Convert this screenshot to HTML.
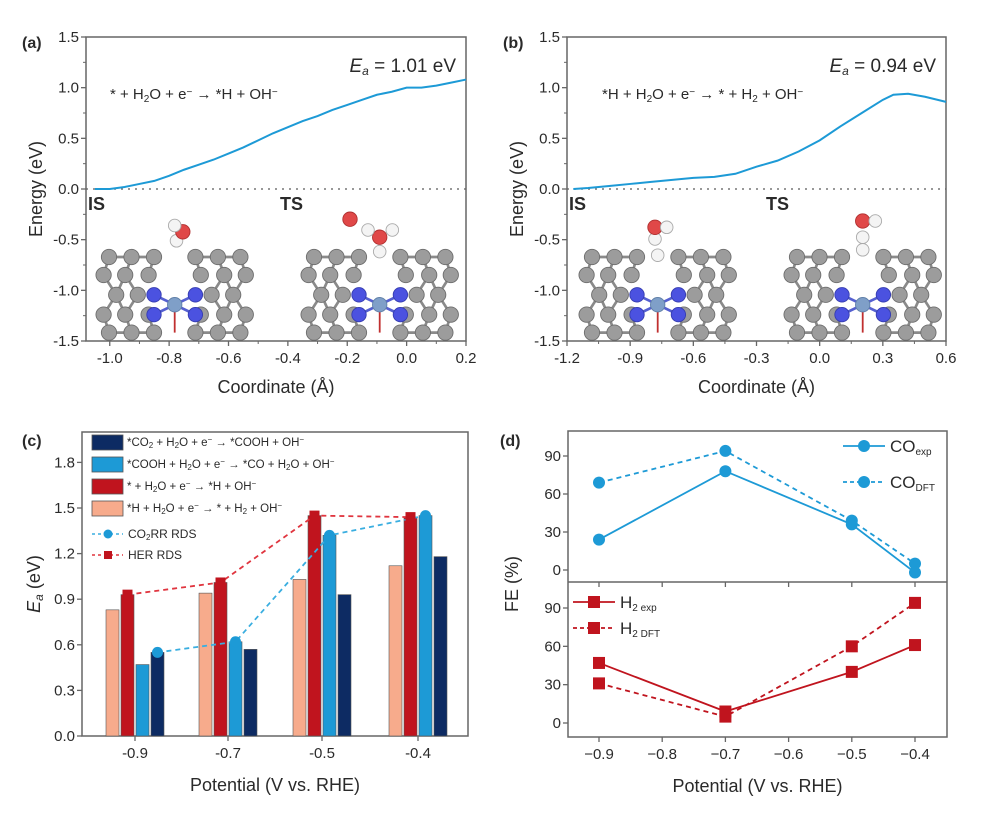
<!DOCTYPE html>
<html><head><meta charset="utf-8"><style>
body{margin:0;background:#fff;}
svg text{font-family:"Liberation Sans",Arial,sans-serif;fill:#2a2a2a;}
</style></head>
<body>
<svg id="fig" xmlns="http://www.w3.org/2000/svg" width="984" height="825" viewBox="0 0 984 825"></svg>
<script>
// ---- data ----
const aX=[-1.05,-1.0,-0.95,-0.9,-0.85,-0.8,-0.75,-0.7,-0.65,-0.6,-0.55,-0.5,-0.45,-0.4,-0.35,-0.3,-0.25,-0.2,-0.15,-0.1,-0.05,0,0.05,0.1,0.15,0.2];
const aY=[0,0,0.02,0.05,0.08,0.13,0.19,0.24,0.29,0.35,0.41,0.48,0.55,0.61,0.67,0.72,0.78,0.83,0.88,0.93,0.96,1.0,1.0,1.02,1.05,1.08];
const bX=[-1.17,-1.1,-1.0,-0.9,-0.8,-0.7,-0.6,-0.5,-0.4,-0.3,-0.2,-0.1,0,0.1,0.2,0.3,0.35,0.42,0.5,0.6];
const bY=[0,0.01,0.03,0.05,0.07,0.09,0.11,0.12,0.15,0.22,0.28,0.37,0.48,0.62,0.75,0.88,0.93,0.94,0.91,0.86];
const aXTicks=[-1.0,-0.8,-0.6,-0.4,-0.2,0.0,0.2];
const bXTicks=[-1.2,-0.9,-0.6,-0.3,0.0,0.3,0.6];
const eTicks=[-1.5,-1.0,-0.5,0.0,0.5,1.0,1.5];
const cCats=["-0.9","-0.7","-0.5","-0.4"];
const cPeach=[0.83,0.94,1.03,1.12];
const cRed=[0.93,1.01,1.45,1.44];
const cLBlue=[0.47,0.62,1.32,1.45];
const cNavy=[0.55,0.57,0.93,1.18];
const cYTicks=[0.0,0.3,0.6,0.9,1.2,1.5,1.8];
const dX=[-0.9,-0.7,-0.5,-0.4];
const coExp=[24,78,36,-2];
const coDft=[69,94,39,5];
const h2Exp=[47,9,40,61];
const h2Dft=[31,5,60,94];
const dXTicks=[-0.9,-0.8,-0.7,-0.6,-0.5,-0.4];
const dYTicks=[0,30,60,90];

const NS="http://www.w3.org/2000/svg";
const svg=document.getElementById('fig');
function el(tag,attrs,parent,txt){const e=document.createElementNS(NS,tag);for(const k in attrs)e.setAttribute(k,attrs[k]);if(txt!==undefined)e.textContent=txt;(parent||svg).appendChild(e);return e;}
const BLUE="#1d9ad6",RED="#c0141e",NAVY="#0d2b63",PEACH="#f7ab8c",AX="#666";
function fmt(v,d){return (v<0?"-":"")+Math.abs(v).toFixed(d);}
function fmtM(v,d){return (v<0?"\u2212":"")+Math.abs(v).toFixed(d);}
function rich(t,segs,small){
  segs.forEach(s=>{
    if(typeof s==="string") el('tspan',{},t,s);
    else el('tspan',{"font-size":small,"baseline-shift":s[1]==="sub"?"-25%":"45%"},t,s[0]);
  });
}

function molecule(g,ox,oy,ads){
  const m=el('g',{transform:`translate(${ox},${oy}) scale(0.9)`},g);
  
  
  const rows=[[0,[10,35,60,106,131,156]],[20,[4,28,54,112,138,162]],[42,[18,42,124,148]],[64,[4,28,54,112,138,162]],[84,[10,35,60,106,131,156]]];
  const bonds=[[10,0,4,20],[35,0,28,20],[60,0,54,20],[106,0,112,20],[131,0,138,20],[156,0,162,20],
    [4,20,18,42],[28,20,18,42],[28,20,42,42],[138,20,124,42],[138,20,148,42],[162,20,148,42],
    [18,42,4,64],[18,42,28,64],[42,42,28,64],[124,42,138,64],[148,42,138,64],[148,42,162,64],
    [4,64,10,84],[28,64,35,84],[54,64,60,84],[112,64,106,84],[138,64,131,84],[162,64,156,84],
    [10,84,35,84],[35,84,60,84],[106,84,131,84],[131,84,156,84],[10,0,35,0],[35,0,60,0],[106,0,131,0],[131,0,156,0]];
  bonds.forEach(b=>el('line',{x1:b[0],y1:b[1],x2:b[2],y2:b[3],stroke:"#8a8a8a","stroke-width":3},m));
  [[60,42],[106,42],[60,64],[106,64]].forEach(p=>el('line',{x1:83,y1:53,x2:p[0],y2:p[1],stroke:"#5560d0","stroke-width":3},m));
  el('line',{x1:83,y1:53,x2:83,y2:84,stroke:"#c03030","stroke-width":2},m);
  rows.forEach(r=>r[1].forEach(x=>el('circle',{cx:x,cy:r[0],r:8.5,fill:"#9c9c9c",stroke:"#6d6d6d","stroke-width":1},m)));
  [[60,42],[106,42],[60,64],[106,64]].forEach(p=>el('circle',{cx:p[0],cy:p[1],r:8,fill:"#4b52e0",stroke:"#353cb0","stroke-width":1},m));
  el('circle',{cx:83,cy:53,r:8,fill:"#7f9fc8",stroke:"#6080a8","stroke-width":1},m);
  ads.forEach(a=>el('circle',{cx:a[0],cy:a[1],r:a[2]==="O"?8:7,fill:a[2]==="O"?"#e04848":"#f4f4f4",stroke:a[2]==="O"?"#b03030":"#aaa","stroke-width":1},m));
}

function energyPanel(name,L,R,xmin,xmax,xs,ys,xt,label,ea,rxnX,rxn,tsX,mols){
  const T=37,B=341;
  const g=el('g',{});
  
  
  const sx=v=>L+(v-xmin)/(xmax-xmin)*(R-L);
  const sy=v=>B-(v+1.5)/3*(B-T);
  mols.forEach(m=>molecule(g,m[0],m[1],m[2]));
  const z=el('line',{x1:L,y1:sy(0),x2:R,y2:sy(0),stroke:"#777","stroke-width":1.5,"stroke-dasharray":"2 5"},g);
  
  
  el('rect',{x:L,y:T,width:R-L,height:B-T,fill:"none",stroke:AX,"stroke-width":1.5},g);
  eTicks.forEach(v=>{
    el('line',{x1:L-5,y1:sy(v),x2:L,y2:sy(v),stroke:AX,"stroke-width":1.3},g);
    const t=el('text',{x:L-7,y:sy(v)+5,"font-size":15,"text-anchor":"end"},g,fmt(v,1));
    
    
  });
  for(let v=-1.25;v<1.5;v+=0.5) el('line',{x1:L-3,y1:sy(v),x2:L,y2:sy(v),stroke:AX,"stroke-width":1},g);
  xt.forEach(v=>{
    el('line',{x1:sx(v),y1:B,x2:sx(v),y2:B+5,stroke:AX,"stroke-width":1.3},g);
    const t=el('text',{x:sx(v),y:B+22,"font-size":15,"text-anchor":"middle"},g,fmt(v,1));
    
    
  });
  const st=xt[1]-xt[0];
  for(let v=xt[0]+st/2;v<xmax;v+=st) el('line',{x1:sx(v),y1:B,x2:sx(v),y2:B+3,stroke:AX,"stroke-width":1},g);
  const p=el('polyline',{points:xs.map((x,i)=>sx(x)+","+sy(ys[i])).join(" "),fill:"none",stroke:BLUE,"stroke-width":2},g);
  
  
  const yl=el('text',{x:0,y:0,"font-size":18,"text-anchor":"middle",transform:`translate(${L-44},${(T+B)/2}) rotate(-90)`},g,"Energy (eV)");
  
  
  const xl=el('text',{x:(L+R)/2,y:B+52,"font-size":18,"text-anchor":"middle"},g,"Coordinate (\u00C5)");
  
  
  const pl=el('text',{x:L-64,y:T+11,"font-size":16,"font-weight":"bold"},g,label);
  
  
  const e=el('text',{x:R-10,y:T+35,"font-size":19,"text-anchor":"end"},g);
  
  
  el('tspan',{"font-style":"italic"},e,"E");
  el('tspan',{"font-style":"italic","font-size":12,"baseline-shift":"-25%"},e,"a");
  el('tspan',{},e," = "+ea+" eV");
  const r=el('text',{x:rxnX,y:T+62,"font-size":15},g);
  
  
  rich(r,rxn,10);
  [["IS",L+2],["TS",tsX]].forEach(s=>{const t=el('text',{x:s[1],y:sy(0)+21,"font-size":18,"font-weight":"bold",fill:"#111"},g,s[0]);
    });
}
energyPanel('panel-a-energy-profile',86,466,-1.08,0.2,aX,aY,aXTicks,"(a)","1.01",110,
  ["* + H",["2","sub"],"O + e",["\u2212","sup"]," \u2192 *H + OH",["\u2212","sup"]],280,
  [[100,257,[[85,-18,"H"],[92,-28,"O"],[83,-35,"H"]]],[305,257,[[83,-22,"O"],[70,-30,"H"],[97,-30,"H"],[50,-42,"O"],[83,-6,"H"]]]]);
energyPanel('panel-b-energy-profile',567,946,-1.2,0.6,bX,bY,bXTicks,"(b)","0.94",602,
  ["*H + H",["2","sub"],"O + e",["\u2212","sup"]," \u2192 * + H",["2","sub"]," + OH",["\u2212","sup"]],766,
  [[583,257,[[83,-2,"H"],[80,-20,"H"],[80,-33,"O"],[93,-33,"H"]]],[788,257,[[83,-8,"H"],[83,-22,"H"],[83,-40,"O"],[97,-40,"H"]]]]);

// ---------- Panel c ----------
(function(){
  const L=82,R=468,T=432,B=736;
  const g=el('g',{});
  
  
  const sy=v=>B-v/2.0*(B-T);
  const centers=[135,228,322,418];
  const bw=13,off=[-1.5,-0.5,0.5,1.5].map(k=>k*15);
  el('rect',{x:L,y:T,width:R-L,height:B-T,fill:"none",stroke:AX,"stroke-width":1.5},g);
  cYTicks.forEach(v=>{
    el('line',{x1:L-5,y1:sy(v),x2:L,y2:sy(v),stroke:AX,"stroke-width":1.3},g);
    const t=el('text',{x:L-7,y:sy(v)+5,"font-size":15,"text-anchor":"end"},g,v.toFixed(1));
    
    
  });
  cCats.forEach((c,i)=>{
    el('line',{x1:centers[i],y1:B,x2:centers[i],y2:B+5,stroke:AX,"stroke-width":1.3},g);
    const t=el('text',{x:centers[i],y:B+22,"font-size":15,"text-anchor":"middle"},g,c);
    
    
  });
  const series=[[cPeach,PEACH,'bar-h-desorption'],[cRed,RED,'bar-h-adsorption'],[cLBlue,BLUE,'bar-cooh-to-co'],[cNavy,NAVY,'bar-co2-to-cooh']];
  series.forEach((s,k)=>s[0].forEach((v,i)=>{
    const b=el('rect',{x:centers[i]+off[k]-bw/2,y:sy(v),width:bw,height:B-sy(v),fill:s[1],stroke:"#555","stroke-width":0.6},g);
    
    
  }));
  const co2=[[3,0],[2,1],[2,2],[2,3]].map(p=>[centers[p[1]]+off[p[0]],sy(series[p[0]][0][p[1]])]);
  const her=cRed.map((v,i)=>[centers[i]+off[1],sy(v)]);
  const l1=el('polyline',{points:her.map(p=>p.join(",")).join(" "),fill:"none",stroke:"#e0353f","stroke-width":1.8,"stroke-dasharray":"5 4"},g);
  
  const l2=el('polyline',{points:co2.map(p=>p.join(",")).join(" "),fill:"none",stroke:"#3aaee0","stroke-width":1.8,"stroke-dasharray":"5 4"},g);
  
  her.forEach(p=>{const m=el('rect',{x:p[0]-5,y:p[1]-5,width:10,height:10,fill:RED},g);});
  co2.forEach(p=>{const m=el('circle',{cx:p[0],cy:p[1],r:5.5,fill:BLUE},g);});
  const leg=[[NAVY,["*CO",["2","sub"]," + H",["2","sub"],"O + e",["\u2212","sup"],"  \u2192 *COOH + OH",["\u2212","sup"]]],
             [BLUE,["*COOH + H",["2","sub"],"O + e",["\u2212","sup"]," \u2192 *CO + H",["2","sub"],"O + OH",["\u2212","sup"]]],
             [RED,["* + H",["2","sub"],"O + e",["\u2212","sup"]," \u2192 *H + OH",["\u2212","sup"]]],
             [PEACH,["*H + H",["2","sub"],"O + e",["\u2212","sup"]," \u2192 * + H",["2","sub"]," + OH",["\u2212","sup"]]]];
  leg.forEach((l,i)=>{
    const y=442+i*22;
    const gi=el('g',{},g);
    
    
    el('rect',{x:92,y:y-7,width:31,height:15,fill:l[0],stroke:"#555","stroke-width":0.8},gi);
    const t=el('text',{x:127,y:y+4,"font-size":11.5},gi);
    rich(t,l[1],8);
  });
  const g1=el('g',{},g);
  
  
  el('line',{x1:92,y1:534,x2:123,y2:534,stroke:"#3aaee0","stroke-width":1.6,"stroke-dasharray":"3 3"},g1);
  el('circle',{cx:108,cy:534,r:4.5,fill:BLUE},g1);
  const t1=el('text',{x:128,y:538,"font-size":12},g1);
  rich(t1,["CO",["2","sub"],"RR RDS"],8);
  const g2=el('g',{},g);
  
  
  el('line',{x1:92,y1:555,x2:123,y2:555,stroke:"#e0353f","stroke-width":1.6,"stroke-dasharray":"3 3"},g2);
  el('rect',{x:104,y:551,width:8,height:8,fill:RED},g2);
  el('text',{x:128,y:559,"font-size":12},g2,"HER RDS");
  const yl=el('text',{x:0,y:0,"font-size":18,"text-anchor":"middle",transform:`translate(40,${(T+B)/2}) rotate(-90)`},g);
  
  el('tspan',{"font-style":"italic"},yl,"E");el('tspan',{"font-style":"italic","font-size":12,"baseline-shift":"-25%"},yl,"a");el('tspan',{},yl," (eV)");
  const xl=el('text',{x:(L+R)/2,y:B+55,"font-size":18,"text-anchor":"middle"},g,"Potential (V vs. RHE)");
  
  const pl=el('text',{x:22,y:446,"font-size":16,"font-weight":"bold"},g,"(c)");
  
})();

// ---------- Panel d ----------
(function(){
  const L=568,R=947,T=431,M=582,B=737;
  const g=el('g',{});
  
  
  const sx=v=>599+(v+0.9)/0.5*(915-599);
  const syU=v=>570-v/90*(570-456);
  const syL=v=>723-v/90*(723-608);
  el('rect',{x:L,y:T,width:R-L,height:B-T,fill:"none",stroke:AX,"stroke-width":1.5},g);
  el('line',{x1:L,y1:M,x2:R,y2:M,stroke:AX,"stroke-width":1.5},g);
  dYTicks.forEach(v=>{
    [syU,syL].forEach(f=>{
      el('line',{x1:L-5,y1:f(v),x2:L,y2:f(v),stroke:AX,"stroke-width":1.3},g);
      const t=el('text',{x:L-7,y:f(v)+5,"font-size":15,"text-anchor":"end"},g,String(v));
      
    });
  });
  dXTicks.forEach(v=>{
    el('line',{x1:sx(v),y1:B,x2:sx(v),y2:B+5,stroke:AX,"stroke-width":1.3},g);
    el('line',{x1:sx(v),y1:M,x2:sx(v),y2:M+5,stroke:AX,"stroke-width":1.3},g);
    const t=el('text',{x:sx(v),y:B+22,"font-size":15,"text-anchor":"middle"},g,fmtM(v,1));
    
  });
  function series(vals,f,color,dash,shape,name){
    const pts=vals.map((v,i)=>[sx(dX[i]),f(v)]);
    const a={points:pts.map(p=>p.join(",")).join(" "),fill:"none",stroke:color,"stroke-width":1.8};
    if(dash)a["stroke-dasharray"]="5 4";
    const l=el('polyline',a,g);
    
    pts.forEach(p=>{
      const m=shape==="c"?el('circle',{cx:p[0],cy:p[1],r:6,fill:color},g):el('rect',{x:p[0]-6,y:p[1]-6,width:12,height:12,fill:color},g);
      
    });
  }
  series(coDft,syU,BLUE,true,"c","co-dft");
  series(coExp,syU,BLUE,false,"c","co-exp");
  series(h2Dft,syL,RED,true,"s","h2-dft");
  series(h2Exp,syL,RED,false,"s","h2-exp");
  function legend(x,y,color,dash,shape,main,sub){
    const gi=el('g',{},g);
    
    const a={x1:x,y1:y,x2:x+42,y2:y,stroke:color,"stroke-width":1.8};if(dash)a["stroke-dasharray"]="4 3";
    el('line',a,gi);
    if(shape==="c")el('circle',{cx:x+21,cy:y,r:6,fill:color},gi);else el('rect',{x:x+15,y:y-6,width:12,height:12,fill:color},gi);
    const t=el('text',{x:x+47,y:y+6,"font-size":17},gi,main);
    el('tspan',{"font-size":10,"baseline-shift":"-30%"},t,sub);
  }
  legend(843,446,BLUE,false,"c","CO","exp");
  legend(843,482,BLUE,true,"c","CO","DFT");
  legend(573,602,RED,false,"s","H","2 exp");
  legend(573,628,RED,true,"s","H","2 DFT");
  const yl=el('text',{x:0,y:0,"font-size":18,"text-anchor":"middle",transform:`translate(518,${(T+B)/2}) rotate(-90)`},g,"FE (%)");
  
  const xl=el('text',{x:(L+R)/2,y:B+55,"font-size":18,"text-anchor":"middle"},g,"Potential (V vs. RHE)");
  
  const pl=el('text',{x:500,y:446,"font-size":16,"font-weight":"bold"},g,"(d)");
  
})();
</script>
</body></html>
